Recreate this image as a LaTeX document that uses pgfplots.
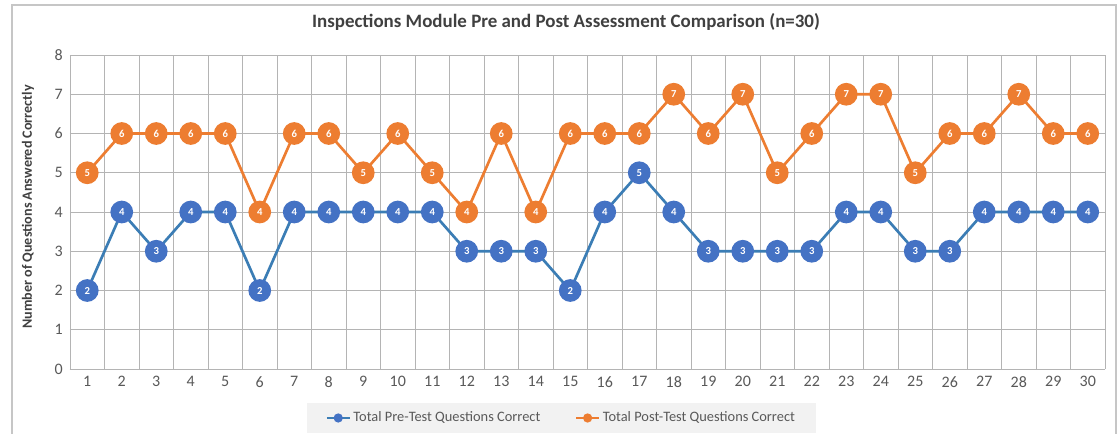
\documentclass[border=0pt]{standalone}
\usepackage{pgfplots}
\pgfplotsset{compat=1.18}
\usepackage{fontspec}
\setmainfont{Carlito}
\definecolor{preline}{HTML}{3B7DB5}
\definecolor{premark}{HTML}{4472C4}
\definecolor{post}{HTML}{ED7D31}
\definecolor{txt}{HTML}{595959}
\definecolor{ttl}{HTML}{404040}
\definecolor{gridc}{HTML}{B4B4B4}
\begin{document}
\begin{tikzpicture}[x=0.75pt,y=0.75pt]
\useasboundingbox (-70,-64) rectangle (1048,369);
\fill[white] (-70,-64) rectangle (1048,369);
\draw[gray!45, line width=0.9pt] (-58,-80) -- (-58,364) -- (1046,364) -- (1046,-80);
\begin{axis}[
  at={(0,0)}, anchor=south west, scale only axis,
  width=776.25pt, height=235.5pt,
  xmin=0.5, xmax=30.5, ymin=0, ymax=8,
  xtick={1,...,30}, ytick={0,...,8},
  minor xtick={0.5,1.5,...,30.5},
  xminorgrids, ymajorgrids,
  minor grid style={gridc, line width=0.6pt},
  major grid style={gridc, line width=0.6pt},
  extra y ticks={0}, extra y tick labels={},
  extra y tick style={grid style={black!65, line width=1.1pt}},
  axis line style={draw=none}, tick style={draw=none},
  ticklabel style={font=\fontsize{12}{14}\selectfont, text=txt},
  /pgf/number format/assume math mode=true,
  xticklabel style={yshift=-2pt},
  yticklabel style={xshift=-2pt},
  ylabel={Number of Questions Answered Correctly},
  ylabel style={font=\bfseries\fontsize{10.6}{12}\selectfont, text=ttl, at={(axis description cs:-0.0406,0.516)}, anchor=center},
  nodes near coords, point meta=y,
  every node near coord/.append style={anchor=center, text=white, font=\bfseries\fontsize{8}{9}\selectfont},
  legend columns=2,
  legend style={at={(axis description cs:0.475,-0.156)}, anchor=center, fill=black!5, draw=none,
    font=\fontsize{10.8}{12}\selectfont, text=txt, inner xsep=14pt, inner ysep=5pt,
    /tikz/every even column/.append style={column sep=24pt}},
  legend image post style={mark size=2.5pt, line width=1.8pt},
]
\addplot[preline, line width=2pt, mark=*, mark size=7.5pt, mark options={fill=premark, draw=premark}] coordinates {
(1,2)(2,4)(3,3)(4,4)(5,4)(6,2)(7,4)(8,4)(9,4)(10,4)
(11,4)(12,3)(13,3)(14,3)(15,2)(16,4)(17,5)(18,4)(19,3)(20,3)
(21,3)(22,3)(23,4)(24,4)(25,3)(26,3)(27,4)(28,4)(29,4)(30,4)};
\addlegendentry{Total Pre-Test Questions Correct}
\addplot[post, line width=2pt, mark=*, mark size=7.5pt, mark options={fill=post, draw=post}] coordinates {
(1,5)(2,6)(3,6)(4,6)(5,6)(6,4)(7,6)(8,6)(9,5)(10,6)
(11,5)(12,4)(13,6)(14,4)(15,6)(16,6)(17,6)(18,7)(19,6)(20,7)
(21,5)(22,6)(23,7)(24,7)(25,5)(26,6)(27,6)(28,7)(29,6)(30,6)};
\addlegendentry{Total Post-Test Questions Correct}
\end{axis}
\node[font=\bfseries\fontsize{14.2}{17}\selectfont, text=ttl] at (496,347) {Inspections Module Pre and Post Assessment Comparison (n=30)};
\end{tikzpicture}
\end{document}
